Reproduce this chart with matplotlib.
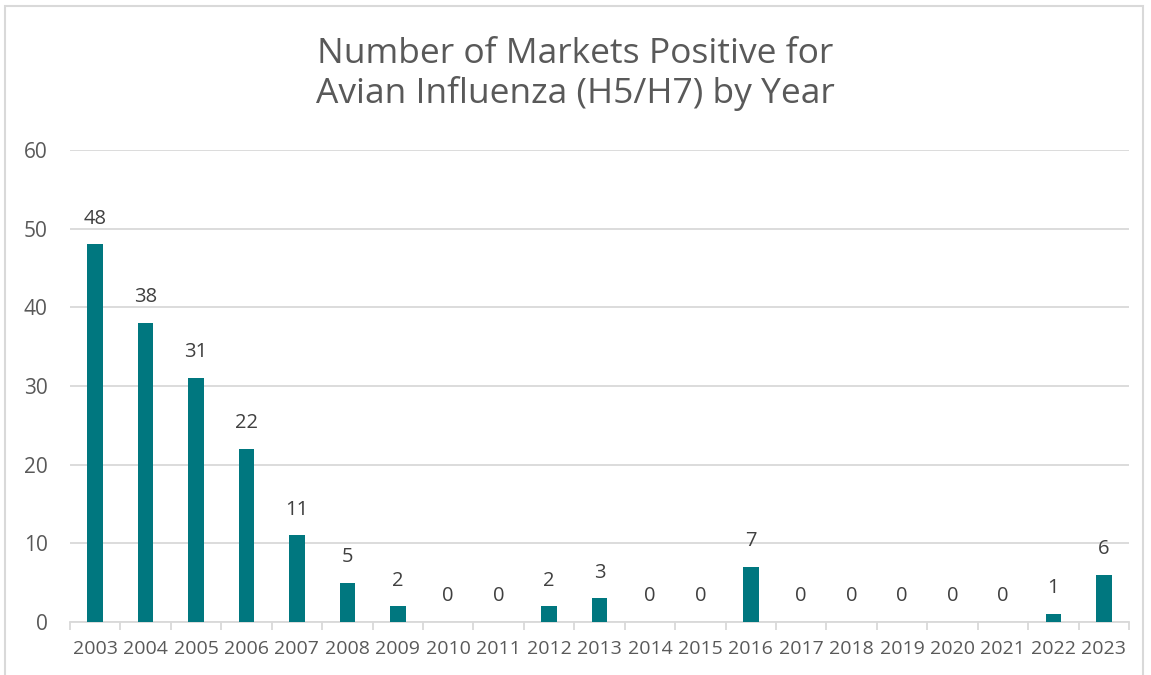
import numpy as np
import matplotlib.pyplot as plt
from matplotlib.patches import Rectangle

years = ["2003", "2004", "2005", "2006", "2007", "2008", "2009", "2010", "2011", "2012", "2013",
         "2014", "2015", "2016", "2017", "2018", "2019", "2020", "2021", "2022", "2023"]
markets = [48, 38, 31, 22, 11, 5, 2, 0, 0, 2, 3, 0, 0, 7, 0, 0, 0, 0, 0, 1, 6]

bar_color = "#00777F"
text_color = "#595959"
grid_color = "#D9D9D9"

plt.rcParams.update({"font.family": ["Open Sans", "DejaVu Sans"]})
fig = plt.figure(figsize=(11.51, 6.75), dpi=100)
fig.patches.append(Rectangle((5 / 1151, -0.02), 1138 / 1151, 1.02 - 6 / 675, transform=fig.transFigure,
                             fill=False, edgecolor=grid_color, lw=1.5))
ax = fig.add_axes([70 / 1151, 1 - 622 / 675, 1059 / 1151, 472 / 675])

x = np.arange(len(years))
ax.bar(x, markets, width=0.31, color=bar_color, zorder=3)
for xi, v in zip(x, markets):
    ax.text(xi, v + 2.0, str(v), ha="center", va="bottom", fontsize=14.5, color="#404040")

ax.set_xlim(-0.5, len(years) - 0.5)
ax.set_ylim(0, 60)
ax.set_yticks(range(0, 61, 10))
ax.set_xticks(x)
ax.set_xticklabels(years)
ax.set_xticks(np.arange(-0.5, len(years)), minor=True)
ax.yaxis.grid(True, color=grid_color, lw=1.3, zorder=0)
for s in ["top", "right", "left"]:
    ax.spines[s].set_visible(False)
ax.spines["bottom"].set_color(grid_color)
ax.spines["bottom"].set_linewidth(1.3)
ax.tick_params(axis="y", length=0, pad=16, labelsize=15, labelcolor=text_color)
ax.tick_params(axis="x", which="major", length=0, pad=13, labelsize=14, labelcolor=text_color)
ax.tick_params(axis="x", which="minor", length=6, width=1.3, color=grid_color)

fig.text(0.5, 1 - 74 / 675, "Number of Markets Positive for\nAvian Influenza (H5/H7) by Year",
         ha="center", va="center", fontsize=25.5, color=text_color, linespacing=1.15)

fig.savefig("out.png", dpi=100, facecolor="white")
